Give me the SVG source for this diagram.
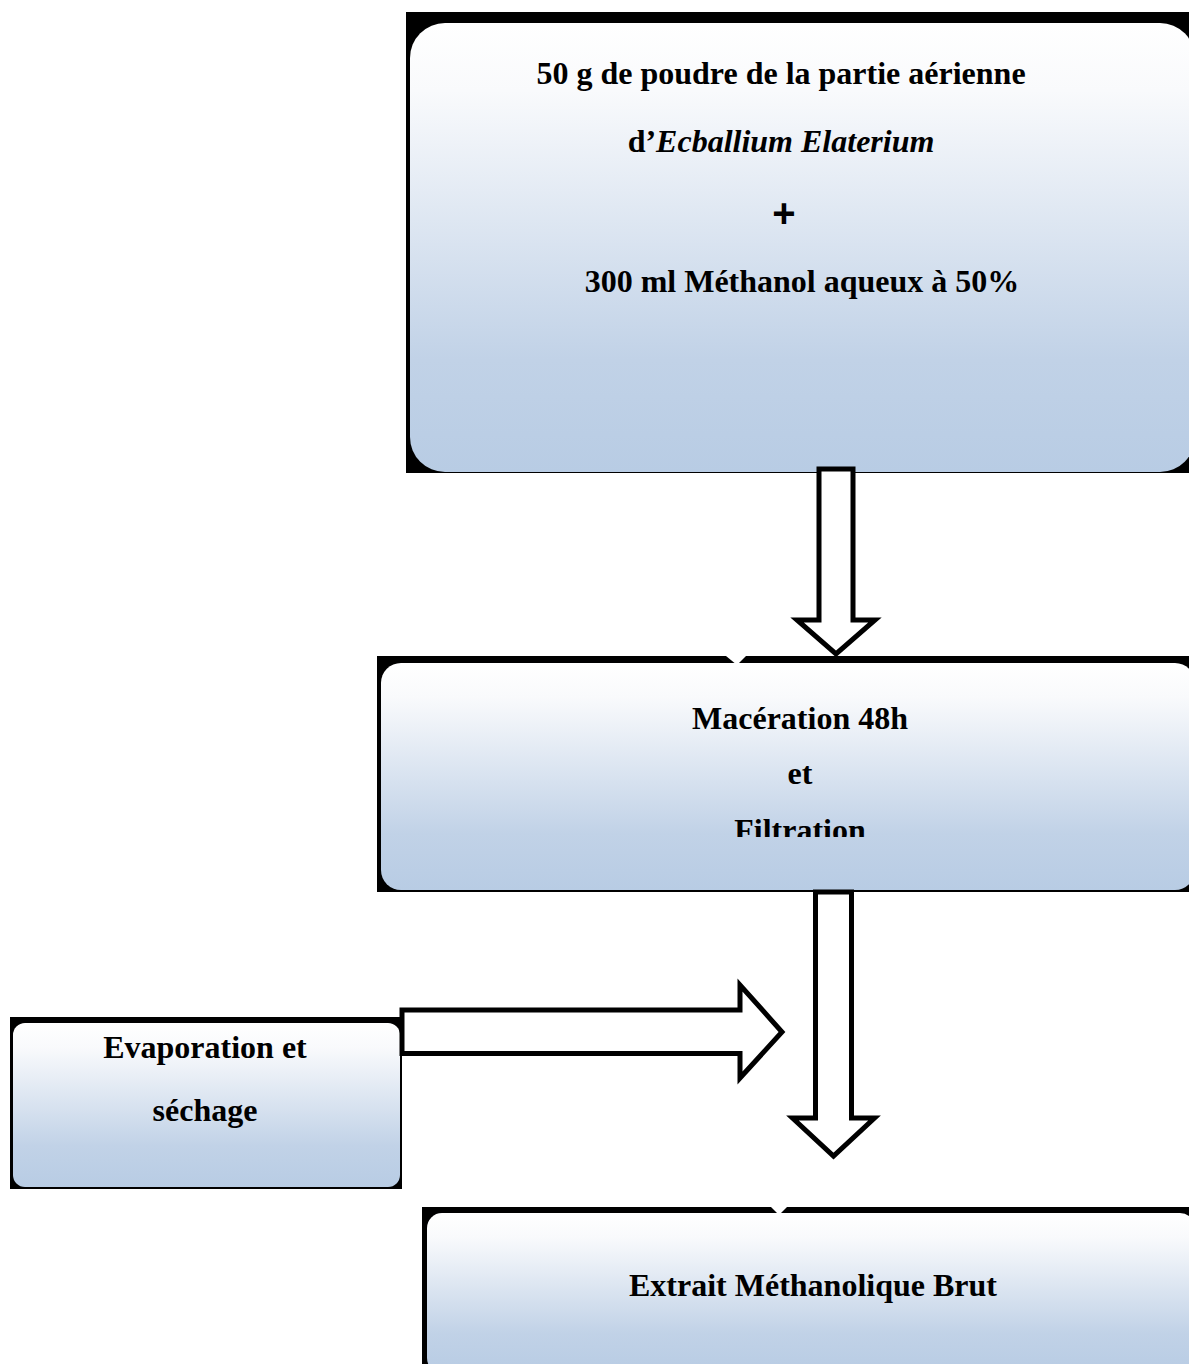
<svg xmlns="http://www.w3.org/2000/svg" width="1189" height="1364" viewBox="0 0 1189 1364">
  <defs>
    <linearGradient id="fill" x1="0" y1="0" x2="0" y2="1">
      <stop offset="0" stop-color="#ffffff"/>
      <stop offset="0.15" stop-color="#f9fafc"/>
      <stop offset="0.75" stop-color="#c1d2e7"/>
      <stop offset="1" stop-color="#b8cce4"/>
    </linearGradient>
    <clipPath id="clipBox2"><rect x="381" y="663" width="808" height="174"/></clipPath>
    <style>
      .back { fill: #000000; }
      .face { fill: url(#fill); }
      .lbl { font-family: "Liberation Serif", "Times New Roman", serif; font-weight: bold; font-size: 32px; fill: #000000; text-anchor: middle; }
      .arrow { fill: #ffffff; stroke: #000000; stroke-width: 5; stroke-linejoin: miter; }
    </style>
  </defs>
  <rect width="1189" height="1364" fill="#ffffff"/>

  <g id="node-powder">
    <rect class="back" x="406" y="12" width="783" height="461"/>
    <rect class="face" x="410" y="23" width="785" height="449" rx="35" ry="35"/>
    <text class="lbl" x="781" y="84">50 g de poudre de la partie aérienne</text>
    <text class="lbl" x="781" y="152">d’<tspan font-style="italic">Ecballium Elaterium</tspan></text>
    <text x="784" y="227" font-family="Liberation Sans, Arial, sans-serif" font-weight="bold" font-size="40" text-anchor="middle">+</text>
    <text class="lbl" x="802" y="292">300 ml Méthanol aqueux à 50%</text>
  </g>

  <g id="node-maceration">
    <rect class="back" x="377" y="656" width="812" height="236"/>
    <rect class="face" x="381" y="663" width="814" height="227" rx="20" ry="20"/>
    <polygon points="726,656 746,656 737,665" fill="#ffffff"/>
    <text class="lbl" x="800" y="729">Macération 48h</text>
    <text class="lbl" x="800" y="784">et</text>
    <text class="lbl" x="800" y="841" clip-path="url(#clipBox2)">Filtration</text>
  </g>

  <g id="node-evaporation">
    <rect class="back" x="10" y="1017" width="392" height="172"/>
    <rect class="face" x="13" y="1023" width="387" height="164" rx="12" ry="12"/>
    <text class="lbl" x="205" y="1058">Evaporation et</text>
    <text class="lbl" x="205" y="1121">séchage</text>
  </g>

  <g id="node-extrait">
    <rect class="back" x="422" y="1207" width="767" height="157"/>
    <rect class="face" x="427" y="1213" width="768" height="160" rx="15" ry="15"/>
    <polygon points="771,1207 787,1207 779,1215" fill="#ffffff"/>
    <text class="lbl" x="813" y="1296">Extrait Méthanolique Brut</text>
  </g>

  <g id="connectors">
    <polygon class="arrow" points="819,469 853,469 853,620 875,620 836,654 797,620 819,620"/>
    <polygon class="arrow" points="815.5,892 851.5,892 851.5,1118 874.5,1118 833.5,1156 792.5,1118 815.5,1118"/>
    <polygon class="arrow" points="402,1010 740,1010 740,985 782,1032 740,1078 740,1053.5 402,1053.5"/>
  </g>
</svg>
